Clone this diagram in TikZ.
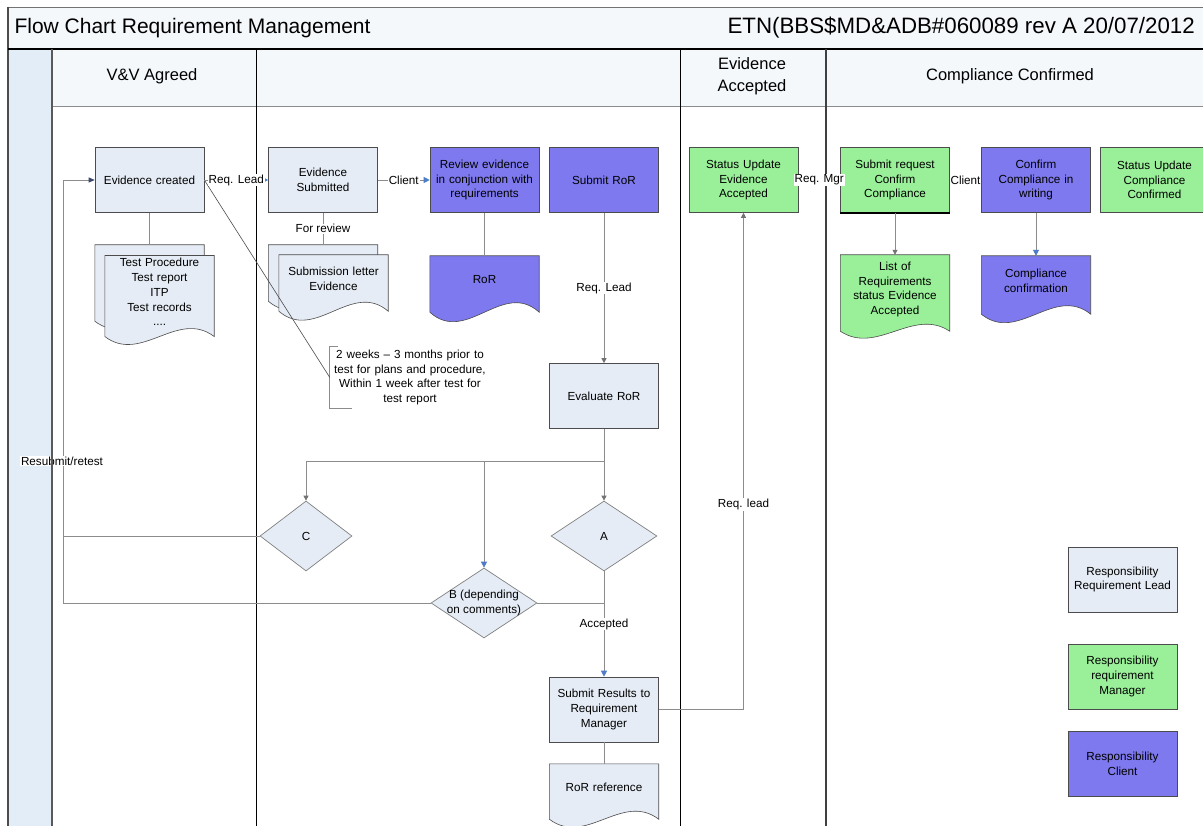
\documentclass[tikz,border=0pt]{standalone}
\usepackage{fontspec}
\setmainfont{Liberation Sans}
\usetikzlibrary{calc,shapes.geometric,arrows.meta}
\pgfdeclarelayer{lanes}
\pgfdeclarelayer{docs}
\pgfdeclarelayer{top}
\pgfsetlayers{lanes,docs,main,top}

\definecolor{pale}{RGB}{229,236,245}
\definecolor{client}{RGB}{126,121,238}
\definecolor{mgr}{RGB}{153,240,153}
\definecolor{pool}{RGB}{226,237,247}
\definecolor{conn}{RGB}{140,140,140}
\definecolor{tipblue}{RGB}{77,124,200}
\definecolor{navy}{RGB}{60,72,110}
\definecolor{hdr}{RGB}{245,248,251}

% document outline: rectangle with a wavy bottom edge, drawn around a node
% #1 node name, #2 fill colour, #3 wave depth (pt)
\newcommand{\docshape}[3]{%
  \draw[docline, fill=#2] (#1.north west) -- (#1.north east)
    -- ($(#1.south east)+(0pt,-#3pt)$)
    .. controls ($(#1.south east)+(-36.5pt,{2.46*#3pt})$)
       and ($(#1.south west)+(36.5pt,{-4.46*#3pt})$)
    .. ($(#1.south west)+(0pt,-#3pt)$) -- cycle;}

\begin{document}
\begin{tikzpicture}[x=1pt,y=-1pt,
  font=\fontsize{11.7}{14.8}\selectfont,
  box/.style={draw=black!70, line width=0.6pt, text width=104pt, inner sep=2.5pt,
    minimum height=65pt, align=center},
  leadbox/.style={box, fill=pale},
  mgrbox/.style={box, fill=mgr},
  clientbox/.style={box, fill=client},
  docnode/.style={text width=104pt, inner sep=2.5pt, align=center},
  docline/.style={draw=black!70, line width=0.6pt},
  decision/.style={shape=diamond, draw=black!50, line width=0.7pt, fill=pale,
    minimum width=106pt, minimum height=70pt, inner sep=0pt},
  conn/.style={draw=conn, line width=0.8pt},
  lbl/.style={fill=white, inner sep=1pt, text=black},
  garrow/.style={-{Triangle[length=5pt,width=5pt,color=black!55]}},
  barrow/.style={-{Triangle[length=6pt,width=6pt,color=tipblue]}},
  darrow/.style={-{Triangle[length=6pt,width=5pt,color=navy]}},
  lane/.style={draw=black, line width=1pt},
  hfont/.style={font=\fontsize{16.5}{22}\selectfont},
  tfont/.style={font=\fontsize{21}{25}\selectfont},
]
\useasboundingbox (0,0) rectangle (1203,826);
\clip (0,0) rectangle (1203,826);

% ---------- swimlane frame ----------
\begin{pgfonlayer}{lanes}
  \fill[white] (0,0) rectangle (1203,826);
  \fill[hdr] (8,7) rectangle (1203,106);
  \fill[pool] (8,49) rectangle (52,826);
  \draw[black!55, line width=0.8pt] (8,7) -- (1203,7);
  \draw[black!70, line width=1.4pt] (8,7) -- (8,826);
  \draw[black, line width=1.3pt] (8,49) -- (1203,49);
  \draw[black!45, line width=0.8pt] (52,106) -- (1203,106);
  \draw[lane] (256,49) -- (256,826);
  \draw[lane] (680,49) -- (680,826);
  \draw[lane, draw=black!75, line width=1.3pt] (826,49) -- (826,826);
\end{pgfonlayer}
\begin{pgfonlayer}{top}
  \draw[black!65, line width=1.3pt] (52,49) -- (52,826);
\end{pgfonlayer}

% ---------- titles ----------
\node[tfont, anchor=west] (title) at (11,28) {Flow Chart Requirement Management};
\node[font=\fontsize{22.3}{26}\selectfont, anchor=west] (docref) at (724,28) {ETN(BBS\$MD\&ADB\#060089 rev A 20/07/2012};
\node[hfont] (laneA) at (152,76) {V\&V Agreed};
\node[hfont, align=center] (laneC) at (752,76) {Evidence\\Accepted};
\node[hfont] (laneD) at (1010,76) {Compliance Confirmed};

% ---------- process boxes ----------
\node[leadbox] (ec) at (149.5,180) {Evidence created};
\node[leadbox] (es) at (323,180) {Evidence\\Submitted};
\node[clientbox] (rev) at (484.5,180) {Review evidence\\in conjunction with\\requirements};
\node[clientbox] (sror) at (604,180) {Submit RoR};
\node[leadbox] (evr) at (604,396) {Evaluate RoR};
\node[leadbox] (sr) at (604,709.5) {Submit Results to\\Requirement\\Manager};
\node[mgrbox] (suea) at (743.5,180) {Status Update\\Evidence\\Accepted};
\node[mgrbox] (srq) at (895,180) {Submit request\\Confirm\\Compliance};
\draw[black, line width=1.5pt] (srq.south west) -- (srq.south east);
\node[clientbox] (cc) at (1036,180) {Confirm\\Compliance in\\writing};
\node[mgrbox] (succ) at (1154.5,180) {Status Update\\Compliance\\Confirmed};

% ---------- documents ----------
\node[docnode, minimum height=68pt] (tpback) at (149.5,279) {};
\node[docnode, minimum height=68pt] (tp) at (159.5,292) {Test Procedure\\Test report\\ITP\\Test records\\....};
\node[docnode, minimum height=47pt] (slback) at (323,268.5) {};
\node[docnode, minimum height=47pt] (sl) at (333.5,278.5) {Submission letter\\Evidence};
\node[docnode, minimum height=46.5pt] (ror) at (484.5,279.25) {RoR};
\node[docnode, minimum height=69pt] (lor) at (895,289.5) {List of\\Requirements\\status Evidence\\Accepted};
\node[docnode, minimum height=49.5pt] (ccdoc) at (1036,280.75) {Compliance\\confirmation};
\node[docnode, minimum height=47pt] (rorref) at (604,787.5) {RoR reference};
\begin{pgfonlayer}{docs}
  \docshape{tpback}{pale}{8}
  \docshape{tp}{pale}{8}
  \docshape{slback}{pale}{9}
  \docshape{sl}{pale}{9}
  \docshape{ror}{client}{9.5}
  \docshape{lor}{mgr}{7}
  \docshape{ccdoc}{client}{8.5}
  \docshape{rorref}{pale}{8}
\end{pgfonlayer}

% ---------- decisions ----------
\node[decision, minimum width=92pt] (C) at (306,536) {};
\node (Ctext) at (C) {C};
\node[decision] (A) at (604,536) {};
\node (Atext) at (A) {A};
\node[decision] (B) at (484,603) {};
\node[align=center] (Btext) at (B) {B (depending\\on comments)};

% ---------- timing note ----------
\node[minimum width=160pt, minimum height=62pt, inner sep=0pt, text width=156pt, align=center]
  (note) at (410,377.5) {2 weeks – 3 months prior to\\test for plans and procedure,\\Within 1 week after test for\\test report};
\draw[black!45, line width=1.1pt] ($(note.north west)+(8pt,0pt)$) -- (note.north west)
  -- (note.south west) -- ($(note.south west)+(22pt,0pt)$);
\draw[black!70, line width=0.6pt] (ec.east) -- (note.west);

% ---------- legend ----------
\node[leadbox] (leg1) at (1122.5,579.5) {Responsibility\\Requirement Lead};
\node[mgrbox] (leg2) at (1122.5,676.5) {Responsibility\\requirement\\Manager};
\node[clientbox] (leg3) at (1122.5,764) {Responsibility\\Client};

% ---------- connectors ----------
\draw[conn, barrow] (ec) -- node[lbl] {Req. Lead} (es);
\draw[conn, barrow] (es) -- node[lbl] {Client} (rev);
\draw[conn] (ec.south) -- (tpback.north);
\draw[conn] (es.south) -- node[lbl] {For review} (slback.north);
\draw[conn] (rev.south) -- (ror.north);
\draw[conn, garrow] (sror.south) -- node[lbl] {Req. Lead} (evr.north);
\draw[conn, garrow] (evr.south) -- (A.north);
\coordinate (junc) at (evr.south |- 0,461);
\draw[conn, garrow] (junc) -| (C.north);
\draw[conn, barrow] (junc -| B.north) -- (B.north);
\draw[conn, barrow] (A.south) -- node[lbl] {Accepted} (sr.north);
\draw[conn] (B.east) -- (B.east -| A.south);
\coordinate (loop) at (63,180);
\draw[conn, darrow] (C.west) -- (C.west -| loop) -- (loop) -- (ec.west);
\draw[conn] (B.west) -- (B.west -| loop) -- (C.west -| loop);
\node[lbl] (resub) at (62,461) {Resubmit/retest};
\draw[conn] (sr.south) -- (rorref.north);
\draw[conn, garrow] (sr.east) -| node[lbl, pos=0.706] {Req. lead} (suea.south);
\draw[conn] (suea) -- node[lbl] {Req. Mgr} (srq);
\draw[conn] (srq) -- node[lbl] {Client} (cc);
\draw[conn, garrow] (srq.south) -- (lor.north);
\draw[conn, barrow] (cc.south) -- (ccdoc.north);
\end{tikzpicture}
\end{document}
